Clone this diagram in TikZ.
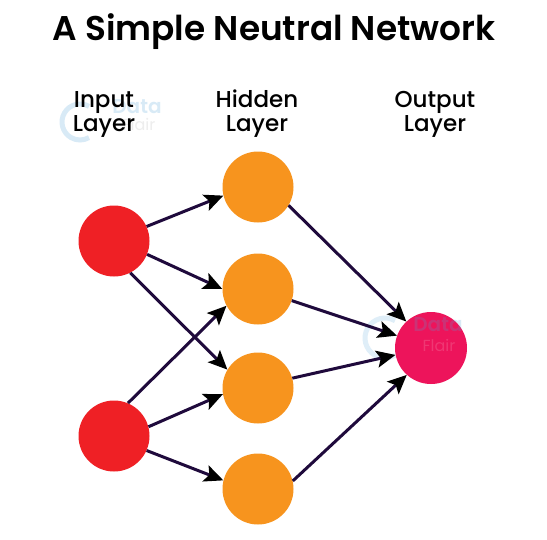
\documentclass[tikz,border=0pt]{standalone}
\usepackage{fontspec}
\setmainfont{Poppins}
\usetikzlibrary{arrows.meta}
\definecolor{inred}{HTML}{EF2025}
\definecolor{hidorange}{HTML}{F7941E}
\definecolor{outpink}{HTML}{ED145B}
\definecolor{linknavy}{HTML}{1F0A3C}
\definecolor{wmblue}{HTML}{4FA3D9}
\definecolor{wmgrey}{HTML}{8A8A8A}
\tikzset{
  x=1pt,y=-1pt,
  neuron/.style={circle,inner sep=0pt,minimum size=71pt},
  link/.style={draw=linknavy,line width=3pt,-{Stealth[inset=4pt,length=19pt,width=17pt,black]}},
  layerlabel/.style={align=center,font=\fontsize{23}{24}\selectfont\fontspec{Poppins Medium},text=black},
  titletext/.style={font=\fontsize{34.3}{36}\selectfont\fontspec{Poppins SemiBold},text=black},
  wmring/.style={draw=wmblue,opacity=.22,line width=5pt},
  wmtop/.style={font=\fontsize{20}{20}\selectfont\fontspec{Poppins SemiBold},text=wmblue,text opacity=.22},
  wmbot/.style={font=\fontsize{16}{16}\selectfont,text=wmgrey,text opacity=.15}
}
\begin{document}
\begin{tikzpicture}
\useasboundingbox (0,0) rectangle (547,539);
\fill[white] (0,0) rectangle (547,539);
\draw[wmring] (89,106.4) arc (-60:-300:18);
\node[wmtop] (wa) at (137,107) {Data};
\node[wmbot] (wb) at (139,124) {Flair};
\node[titletext] (title) at (274,32) {A Simple Neutral Network};
\node[layerlabel] (linput) at (104,114) {Input\\Layer};
\node[layerlabel] (lhidden) at (257,114) {Hidden\\Layer};
\node[layerlabel] (loutput) at (435,114) {Output\\Layer};
\draw[wmring,opacity=.18] (395,320.7) arc (-60:-300:20);
\node[neuron,fill=inred] (i1) at (114,241) {};
\node[neuron,fill=inred] (i2) at (114,436) {};
\node[neuron,fill=hidorange] (h1) at (258,187) {};
\node[neuron,fill=hidorange] (h2) at (258,289) {};
\node[neuron,fill=hidorange] (h3) at (258,388) {};
\node[neuron,fill=hidorange] (h4) at (258,489) {};
\node[neuron,fill=outpink,minimum size=72pt] (o) at (431,348) {};
\node[wmtop] (wc) at (438,325) {Data};
\node[wmbot,text=white] (wd) at (439,345) {Flair};
\draw[link] (i1.24) -- (h1.194);
\draw[link] (i1.-22) -- (h2.180);
\draw[link] (i1.-63) -- (h3.149);
\draw[link] (i2.67) -- (h2.208);
\draw[link] (i2.15) -- (h3.190);
\draw[link] (i2.-24) -- (h4.166);
\draw[link] (h1.-31) -- (o.133);
\draw[link] (h2.-19) -- (o.160);
\draw[link] (h3.16) -- (o.191);
\draw[link] (h4.13) -- (o.228);
\end{tikzpicture}
\end{document}
